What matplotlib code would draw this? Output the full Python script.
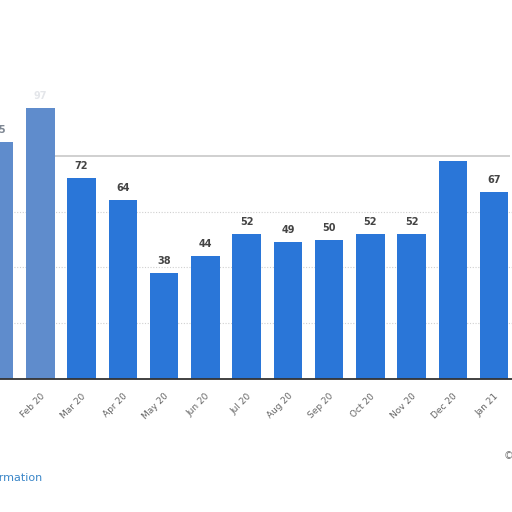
import numpy as np
from matplotlib import pyplot as plt

months = ['Jan 20', 'Feb 20', 'Mar 20', 'Apr 20', 'May 20', 'Jun 20', 'Jul 20',
          'Aug 20', 'Sep 20', 'Oct 20', 'Nov 20', 'Dec 20', 'Jan 21', 'Feb 21']
values = [85, 97, 72, 64, 38, 44, 52, 49, 50, 52, 52, 78, 67, 60]
hidden_labels = ['Dec 20', 'Feb 21']  # value labels not visible in the screenshot
blurred = ['Jan 20', 'Feb 20']

blue = '#2a76d8'
faded = '#5f8ccc'

fig = plt.figure(figsize=(5.12, 5.12), dpi=100)
# axes wider than the figure: the screenshot is a crop of a larger chart
px = 41.27  # pixels per category
ax = fig.add_axes([0, (512 - 379) / 512, 1, 279 / 512])

x = np.arange(len(months))
colors = [faded if m in blurred else blue for m in months]
bars = ax.bar(x, values, width=0.69, color=colors, zorder=3)

for xi, v, m in zip(x, values, months):
    if m in hidden_labels:
        continue
    c = '#444444'
    if m == 'Jan 20':
        c = '#7f8894'
    elif m == 'Feb 20':
        c = '#e4e6ea'
    ax.annotate(str(v), (xi, v), xytext=(0, 5), textcoords='offset points',
                ha='center', va='bottom', fontsize=7, fontweight='bold',
                color=c, annotation_clip=False)

# grid lines
for g in [20, 40, 60]:
    ax.axhline(g, color='#d0d0d0', lw=0.8, ls=(0, (1, 1.5)), zorder=1)
ax.hlines(80, (55 + 1) / px, (510 + 1) / px, color='#c8c8c8', lw=1.2, zorder=1)

for s in ['top', 'right', 'left']:
    ax.spines[s].set_visible(False)
ax.spines['bottom'].set_color('#333333')
ax.spines['bottom'].set_linewidth(1.3)
ax.spines['bottom'].set_zorder(4)
ax.set_yticks([])
ax.set_xticks(x)
ax.set_xticklabels(months, rotation=45, ha='right', va='top',
                   rotation_mode='anchor', fontsize=6.5, color='#666666')
ax.tick_params(axis='x', length=0, pad=9)
ax.set_xlim((0 + 1) / px, (512 + 1) / px)
ax.set_ylim(0, 100)

fig.text(42 / 512, 1 - 478 / 512, 'Additional Information', ha='right',
         va='center', fontsize=8, color='#3a86c8')
fig.text(504 / 512, 1 - 456 / 512, '©', ha='left', va='center',
         fontsize=7, color='#777777')

fig.savefig('out.png', dpi=100)
